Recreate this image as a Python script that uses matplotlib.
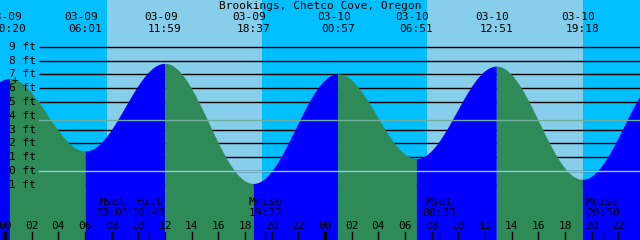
import numpy as np
import matplotlib
matplotlib.use("Agg")
import matplotlib.pyplot as plt

# ---- data ----
title = "Brookings, Chetco Cove, Oregon"
# tide extremes (hours from 03-09 00:00), heights in ft
tide_hours = [-6.2, 0.333, 6.017, 11.983, 18.617, 24.95, 30.85, 36.85, 43.3, 49.6]
tide_heights = [-1.0, 6.7, 1.45, 7.8, -0.9, 7.05, 0.9, 7.6, -0.6, 7.2]
tide_dates = ["03-08", "03-09", "03-09", "03-09", "03-09", "03-10", "03-10", "03-10", "03-10", "03-11"]
tide_times = ["18:12", "00:20", "06:01", "11:59", "18:37", "00:57", "06:51", "12:51", "19:18", "01:36"]
# daylight intervals (hours)
sunrise_hours = [7.65, 31.63]
sunset_hours = [19.30, 43.35]
# moon events
moon_hours = [8.017, 10.8, 19.533, 32.55, 44.833]
moon_names = ["Mset", "Full", "Mrise", "Mset", "Mrise"]
moon_times = ["08:01", "10:48", "19:32", "08:33", "20:50"]
depth_lines = [-1, 0, 1, 2, 3, 5, 6, 7, 8, 9]
depth_labels = [-1, 0, 1, 2, 3, 4, 5, 6, 7, 8, 9]
msl_ft = 3.7
hour_labels = list(range(0, 50, 2))

# ---- colours ----
DAY = "#87CEEB"
NIGHT = "#00BFFF"
FLOOD = "#0000FF"
EBB = "#2E8B57"

W, H = 640, 240
PXH = 13.333  # pixels per hour
X0 = 5.0      # pixel of hour 0
Y0 = 171.0    # pixel row of 0 ft
PXF = 13.8    # pixels per ft

def hx(px):
    return (px - X0) / PXH

def fy(py):
    return (Y0 - py) / PXF

fig = plt.figure(figsize=(6.4, 2.4), dpi=100)
ax = fig.add_axes([0, 0, 1, 1])
ax.set_xlim(hx(0), hx(W))
ax.set_ylim(fy(H), fy(0))
ax.axis("off")

# sky
ax.axvspan(hx(0), hx(W), color=NIGHT, zorder=0, lw=0)
for r, s in zip(sunrise_hours, sunset_hours):
    ax.axvspan(r, s, color=DAY, zorder=0.5, lw=0)

# depth lines (behind water)
for d in depth_lines:
    ax.plot([hx(39), hx(W)], [d, d], color="black", lw=1, zorder=1, solid_capstyle="butt")

# tide curve
bottom = fy(H + 2)
for i in range(len(tide_hours) - 1):
    t0, t1 = tide_hours[i], tide_hours[i + 1]
    h0, h1 = tide_heights[i], tide_heights[i + 1]
    t = np.linspace(t0, t1, 200)
    f = (t - t0) / (t1 - t0)
    h = h0 + (h1 - h0) * (1 - np.cos(np.pi * f)) / 2
    col = FLOOD if h1 > h0 else EBB
    ax.fill_between(t, h, bottom, color=col, lw=0, zorder=2, antialiased=False)

# datum and msl lines
ax.plot([hx(39), hx(W)], [0, 0], color="#88CCEE", lw=1, zorder=3)
ax.plot([hx(39), hx(W)], [msl_ft, msl_ft], color="#6EAE9E", lw=1, zorder=3)

fnt = dict(family="DejaVu Sans Mono", fontsize=8, color="black")

# depth labels
for d in depth_labels:
    ax.text(hx(36), d, f"{d} ft", ha="right", va="center", zorder=5, **fnt)

# title
ax.text(hx(320), fy(6), title, ha="center", va="center", zorder=5, **fnt)

# tide extreme labels
for t, dstr, tstr in zip(tide_hours, tide_dates, tide_times):
    ax.text(t - 4 / PXH, fy(17), dstr, ha="center", va="center", zorder=5, **fnt)
    ax.text(t, fy(29), tstr, ha="center", va="center", zorder=5, **fnt)

# moon labels
for t, n, tm in zip(moon_hours, moon_names, moon_times):
    ax.text(t, fy(202), n, ha="center", va="center", zorder=5, **fnt)
    ax.text(t, fy(213), tm, ha="center", va="center", zorder=5, **fnt)
    ax.plot([t, t], [fy(232), fy(H)], color="black", lw=1, zorder=5)

# hour labels and ticks
for hh in hour_labels:
    ax.text(hh, fy(226), f"{hh % 24:02d}", ha="center", va="center", zorder=5, **fnt)
    if hh % 24 == 0:
        ax.plot([hh, hh], [fy(231), fy(H)], color="black", lw=3, zorder=5, solid_capstyle="butt")
    else:
        ax.plot([hh, hh], [fy(232), fy(H)], color="black", lw=1, zorder=5)

# marker
ax.text(hx(14.5), fy(80), "+", ha="center", va="center", zorder=5, **fnt)

fig.savefig("out.png", dpi=100)
